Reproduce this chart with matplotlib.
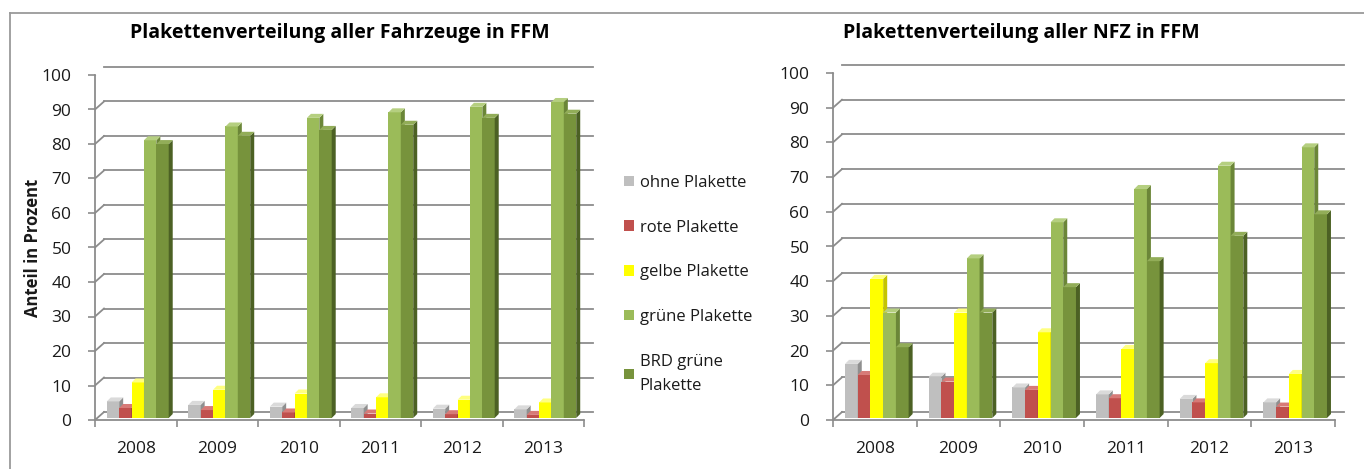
import matplotlib
matplotlib.use("Agg")
import matplotlib.pyplot as plt
import numpy as np
from matplotlib.patches import Polygon, Patch
from matplotlib.lines import Line2D
from matplotlib.transforms import offset_copy, IdentityTransform

years = ["2008", "2009", "2010", "2011", "2012", "2013"]
series_names = ["ohne Plakette", "rote Plakette", "gelbe Plakette",
                "grüne Plakette", "BRD grüne\nPlakette"]

# Anteile aller Fahrzeuge in FFM (%)
alle_ohne = [4.8, 3.8, 3.3, 2.9, 2.7, 2.5]
alle_rot = [2.9, 2.3, 1.6, 1.3, 1.1, 0.9]
alle_gelb = [10.3, 8.2, 7.1, 6.0, 5.3, 4.5]
alle_gruen = [80.5, 84.5, 87.0, 88.6, 90.2, 91.6]
alle_brd_gruen = [79.4, 81.8, 83.5, 85.0, 87.0, 88.2]

# Anteile NFZ in FFM (%)
nfz_ohne = [15.6, 11.9, 8.8, 6.8, 5.5, 4.5]
nfz_rot = [12.4, 10.5, 8.1, 5.7, 4.5, 3.3]
nfz_gelb = [40.1, 30.4, 24.7, 19.9, 15.8, 12.7]
nfz_gruen = [30.4, 46.0, 56.4, 66.0, 72.7, 78.0]
nfz_brd_gruen = [20.4, 30.4, 37.7, 45.2, 52.5, 58.7]

# front / top / side colour of each series
face_colors = [
    ("#bfbfbf", "#dadada", "#8f8f8f"),
    ("#c0504d", "#d77a77", "#8c3533"),
    ("#ffff00", "#ffff80", "#c4c400"),
    ("#9bbb59", "#b5cf80", "#6b8638"),
    ("#77933c", "#92ad58", "#4c6124"),
]

GRID = "#8c8c8c"
TXT = "#1a1a1a"
WALL_DX, WALL_DY = 9, 8     # depth of the back wall in pixels
BAR_DX, BAR_DY = 2, 2       # bars stand a little behind the front edge
DEPTH_DX, DEPTH_DY = 4, 4   # depth of a single column

plt.rcParams["font.family"] = ["Open Sans", "DejaVu Sans"]

fig = plt.figure(figsize=(13.64, 4.69), dpi=100)


def draw_panel(rect, data, title, title_x):
    ax = fig.add_axes(rect)
    ax.set_xlim(0, 6)
    ax.set_ylim(0, 100)
    ax.set_autoscale_on(False)
    ax.set_facecolor("none")
    for s in ["top", "right"]:
        ax.spines[s].set_visible(False)
    for s in ["left", "bottom"]:
        ax.spines[s].set_color(GRID)
        ax.spines[s].set_linewidth(1.3)

    ax.set_yticks(range(0, 101, 10))
    ax.tick_params(axis="y", length=5, width=1.2, color=GRID, pad=12,
                   labelsize=12.5, labelcolor=TXT)
    ax.set_xticks(np.arange(6) + 0.5, years)
    ax.set_xticks(np.arange(7), minor=True)
    ax.tick_params(axis="x", which="major", length=0, pad=15,
                   labelsize=12.5, labelcolor=TXT)
    ax.tick_params(axis="x", which="minor", length=5, width=1.2, color=GRID)

    # back wall gridlines and the diagonal edges of the side wall / floor
    back = offset_copy(ax.transData, fig=fig, x=WALL_DX, y=WALL_DY, units="dots")
    for v in range(0, 101, 10):
        ax.plot([0, 6], [v, v], color=GRID, lw=1.3, transform=back,
                clip_on=False, zorder=1)
        px, py = ax.transData.transform((0, v))
        ax.add_line(Line2D([px, px + WALL_DX], [py, py + WALL_DY], color=GRID,
                           lw=1.3, transform=IdentityTransform(), zorder=1))
    px, py = ax.transData.transform((6, 0))
    ax.add_line(Line2D([px, px + WALL_DX], [py, py + WALL_DY], color=GRID,
                       lw=1.3, transform=IdentityTransform(), zorder=1))

    # 3D columns: front face as bar, top and right side as polygons
    front = offset_copy(ax.transData, fig=fig, x=BAR_DX, y=BAR_DY, units="dots")
    width = 0.152
    start = 0.5 - 2.5 * width
    x = np.arange(len(years))
    for j, vals in enumerate(data):
        fc, tc, sc = face_colors[j]
        lefts = x + start + j * width
        ax.bar(lefts, vals, width=width, align="edge", color=fc, lw=0,
               transform=front, zorder=3 + j)
        for l, v in zip(lefts, vals):
            (x0, y0), (x1, y1) = front.transform([(l, 0), (l + width, v)])
            side = [(x1, y0), (x1 + DEPTH_DX, y0 + DEPTH_DY),
                    (x1 + DEPTH_DX, y1 + DEPTH_DY), (x1, y1)]
            top = [(x0, y1), (x1, y1), (x1 + DEPTH_DX, y1 + DEPTH_DY),
                   (x0 + DEPTH_DX, y1 + DEPTH_DY)]
            ax.add_patch(Polygon(side, closed=True, fc=sc, lw=0, zorder=3 + j,
                                 transform=IdentityTransform(), clip_on=False))
            ax.add_patch(Polygon(top, closed=True, fc=tc, lw=0, zorder=3 + j,
                                 transform=IdentityTransform(), clip_on=False))

    fig.text(title_x, 1 - 33 / 469, title, ha="center", va="center",
             fontsize=14, fontweight="bold", color="#000000")
    return ax


ax1 = draw_panel([95 / 1364, 49 / 469, 489 / 1364, 345 / 469],
                 [alle_ohne, alle_rot, alle_gelb, alle_gruen, alle_brd_gruen],
                 "Plakettenverteilung aller Fahrzeuge in FFM", 340 / 1364)
ax1.set_ylabel("Anteil in Prozent", fontsize=12, fontweight="bold", color=TXT)
ax1.yaxis.set_label_coords(-0.108, 0.5)

ax2 = draw_panel([833 / 1364, 49 / 469, 502 / 1364, 347 / 469],
                 [nfz_ohne, nfz_rot, nfz_gelb, nfz_gruen, nfz_brd_gruen],
                 "Plakettenverteilung aller NFZ in FFM", 1021 / 1364)

handles = [Patch(facecolor=c[0], edgecolor="none") for c in face_colors]
leg = fig.legend(handles, series_names, loc="upper left",
                 bbox_to_anchor=(624 / 1364, 1 - 175 / 469), frameon=False,
                 fontsize=12, handlelength=0.6, handleheight=0.6,
                 handletextpad=0.35, labelspacing=1.72, borderpad=0,
                 borderaxespad=0, labelcolor=TXT)
for t in leg.get_texts():
    t.set_linespacing(1.7)

# outer chart frame
fig.add_artist(Line2D([10 / 1364, 1], [1 - 13 / 469, 1 - 13 / 469],
                      color="#9a9a9a", lw=1.3))
fig.add_artist(Line2D([10 / 1364, 10 / 1364], [0, 1 - 13 / 469],
                      color="#9a9a9a", lw=1.3))

fig.savefig("out.png", dpi=100)
